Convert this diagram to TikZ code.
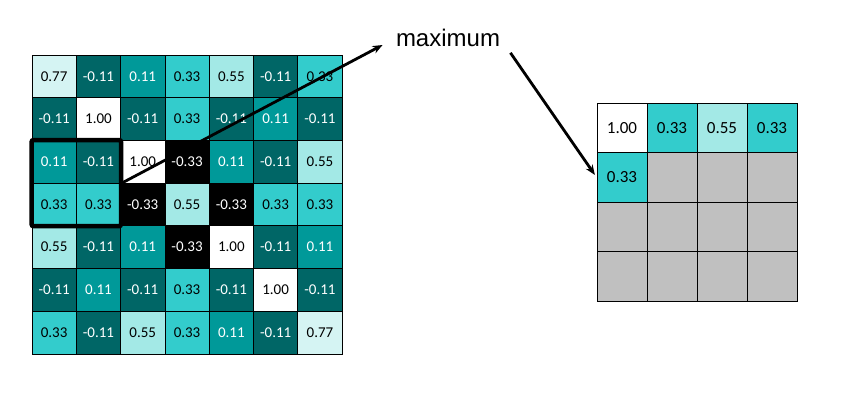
\documentclass[tikz,border=0pt]{standalone}
\usepackage{fontspec}
\setmainfont{Carlito}
\newfontfamily\labelfont{Liberation Sans}
\usetikzlibrary{
  arrows.meta,
  positioning,
}
\definecolor{c77}{HTML}{D5F4F3}
\definecolor{c55}{HTML}{A3E9E6}
\definecolor{c33}{HTML}{33CCCC}
\definecolor{c11}{HTML}{009999}
\definecolor{cm11}{HTML}{006666}
\definecolor{cgray}{HTML}{C0C0C0}
\def\cellw{44.3}
\def\cellh{42.7}
\def\poolw{50}
\def\poolh{49.6}
\tikzset{
  >={Stealth[length=10pt,width=8pt]},
  cell/.style={
    draw,
    line width=0.8pt,
    inner sep=0mm,
    minimum width=\cellw pt,
    minimum height=\cellh pt,
    font=\fontsize{15}{18}\selectfont
  },
  pool cell/.style={
    cell,
    minimum width=\poolw pt,
    minimum height=\poolh pt,
    font=\fontsize{17}{20}\selectfont
  },
  v0.77/.style={fill=c77},
  v0.55/.style={fill=c55},
  v0.33/.style={fill=c33},
  v0.11/.style={fill=c11,text=white},
  v-0.11/.style={fill=cm11,text=white},
  v-0.33/.style={fill=black,text=white},
  v1.00/.style={fill=white},
  window/.style={
    draw,
    line width=4.5pt,
    rounded corners=2pt
  },
  pointer/.style={
    ->,
    line width=2.8pt
  }
}

\begin{document}
\begin{tikzpicture}[x=1pt,y=-1pt]
\useasboundingbox (0,0) rectangle (861,392);
% filtered image
\foreach \row [count=\r] in {
  {0.77,-0.11,0.11,0.33,0.55,-0.11,0.33},
  {-0.11,1.00,-0.11,0.33,-0.11,0.11,-0.11},
  {0.11,-0.11,1.00,-0.33,0.11,-0.11,0.55},
  {0.33,0.33,-0.33,0.55,-0.33,0.33,0.33},
  {0.55,-0.11,0.11,-0.33,1.00,-0.11,0.11},
  {-0.11,0.11,-0.11,0.33,-0.11,1.00,-0.11},
  {0.33,-0.11,0.55,0.33,0.11,-0.11,0.77}}{
  \foreach \v [count=\c] in \row {
    \node[cell,v\v] (L-\r-\c) at ({32+\cellw*(\c-0.5)},{55+\cellh*(\r-0.5)}) {\v};
  }
}
% pooled result
\foreach \v [count=\c] in {1.00,0.33,0.55,0.33}
  \node[pool cell,v\v] (R-1-\c) at ({597+\poolw*(\c-0.5)},{103+\poolh*0.5}) {\v};
\node[pool cell,v0.33] (R-2-1) at ({597+\poolw*0.5},{103+\poolh*1.5}) {0.33};
\foreach \r/\c in {2/2,2/3,2/4,3/1,3/2,3/3,3/4,4/1,4/2,4/3,4/4}
  \node[pool cell,fill=cgray] (R-\r-\c) at ({597+\poolw*(\c-0.5)},{103+\poolh*(\r-0.5)}) {};
\draw[window] (L-3-1.north west) rectangle (L-4-2.south east);
\node[inner sep=0mm,font=\labelfont\fontsize{24}{28}\selectfont] (max) at (448,38) {maximum};
\draw[pointer,shorten >=15pt] (L-3-2.south east) -- (max.west);
\draw[pointer,shorten <=18pt,shorten >=3pt] (max.east) -- (R-2-1.west);
\end{tikzpicture}
\end{document}
